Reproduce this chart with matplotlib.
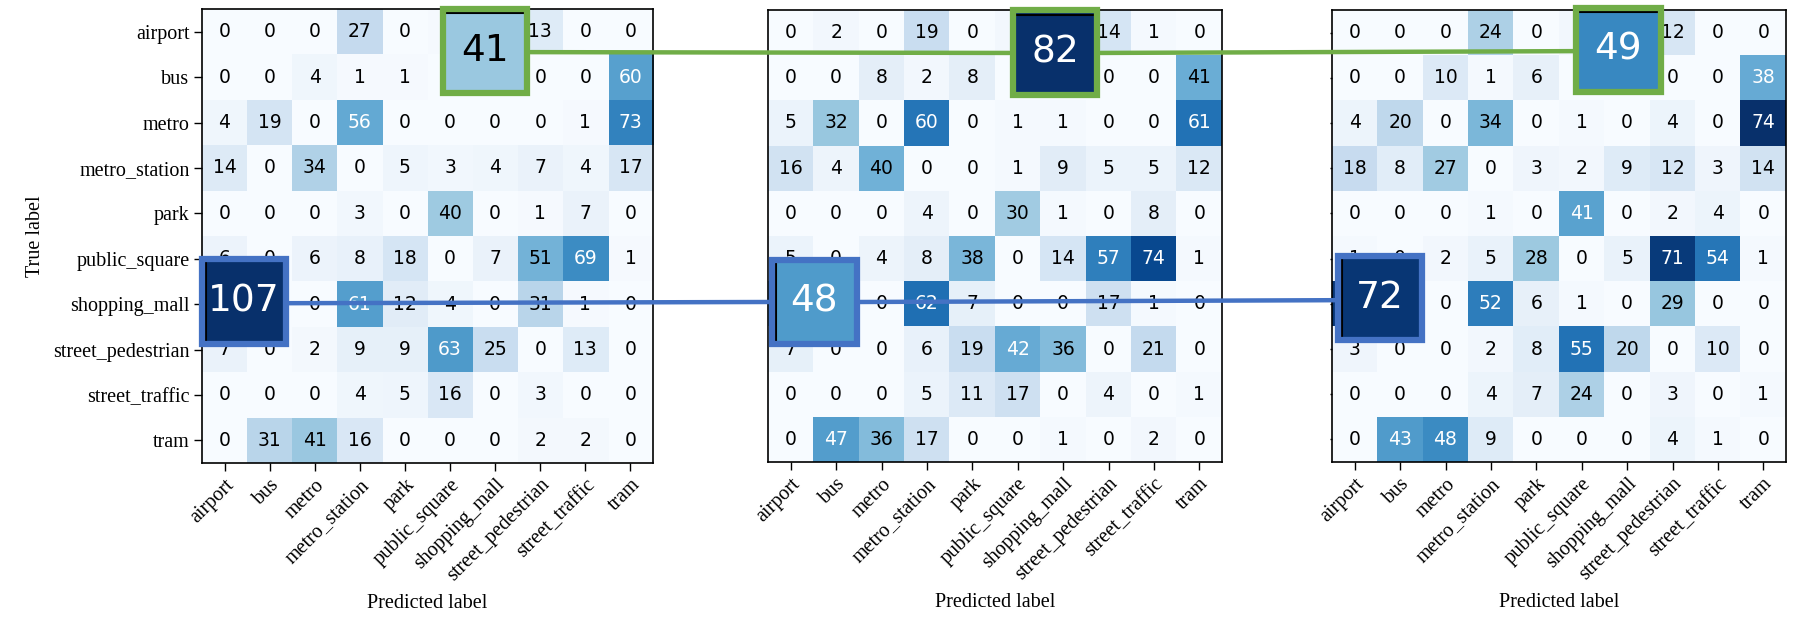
import numpy as np
import matplotlib
matplotlib.use("Agg")
import matplotlib.pyplot as plt
from matplotlib.patches import Rectangle, ConnectionPatch
from matplotlib.lines import Line2D

labels = ["airport", "bus", "metro", "metro_station", "park", "public_square",
          "shopping_mall", "street_pedestrian", "street_traffic", "tram"]

cm_left = [
    [0, 0, 0, 27, 0, 1, 41, 13, 0, 0],
    [0, 0, 4, 1, 1, 0, 0, 0, 0, 60],
    [4, 19, 0, 56, 0, 0, 0, 0, 1, 73],
    [14, 0, 34, 0, 5, 3, 4, 7, 4, 17],
    [0, 0, 0, 3, 0, 40, 0, 1, 7, 0],
    [6, 0, 6, 8, 18, 0, 7, 51, 69, 1],
    [107, 0, 0, 61, 12, 4, 0, 31, 1, 0],
    [7, 0, 2, 9, 9, 63, 25, 0, 13, 0],
    [0, 0, 0, 4, 5, 16, 0, 3, 0, 0],
    [0, 31, 41, 16, 0, 0, 0, 2, 2, 0],
]

cm_middle = [
    [0, 2, 0, 19, 0, 2, 82, 14, 1, 0],
    [0, 0, 8, 2, 8, 0, 0, 0, 0, 41],
    [5, 32, 0, 60, 0, 1, 1, 0, 0, 61],
    [16, 4, 40, 0, 0, 1, 9, 5, 5, 12],
    [0, 0, 0, 4, 0, 30, 1, 0, 8, 0],
    [5, 0, 4, 8, 38, 0, 14, 57, 74, 1],
    [48, 0, 0, 62, 7, 0, 0, 17, 1, 0],
    [7, 0, 0, 6, 19, 42, 36, 0, 21, 0],
    [0, 0, 0, 5, 11, 17, 0, 4, 0, 1],
    [0, 47, 36, 17, 0, 0, 1, 0, 2, 0],
]

cm_right = [
    [0, 0, 0, 24, 0, 2, 49, 12, 0, 0],
    [0, 0, 10, 1, 6, 0, 0, 0, 0, 38],
    [4, 20, 0, 34, 0, 1, 0, 4, 0, 74],
    [18, 8, 27, 0, 3, 2, 9, 12, 3, 14],
    [0, 0, 0, 1, 0, 41, 0, 2, 4, 0],
    [1, 0, 2, 5, 28, 0, 5, 71, 54, 1],
    [72, 0, 0, 52, 6, 1, 0, 29, 0, 0],
    [3, 0, 0, 2, 8, 55, 20, 0, 10, 0],
    [0, 0, 0, 4, 7, 24, 0, 3, 0, 1],
    [0, 43, 48, 9, 0, 0, 0, 4, 1, 0],
]

matrices = [cm_left, cm_middle, cm_right]
green_cell = (0, 6)   # (row, col) highlighted in green
blue_cell = (6, 0)    # (row, col) highlighted in blue

# layout (figure pixels)
W, H = 1807, 626
axes_px = [(202, 9, 451, 454), (768, 10, 454, 452), (1332, 10, 454, 452)]
green_centers = [(5.78, 0.43), (5.82, 0.44), (5.81, 0.38)]
blue_centers = [(0.43, 5.94), (0.52, 5.96), (0.56, 5.88)]
box_size = 1.86
GREEN = "#70AD47"
BLUE = "#4472C4"
serif = ["Liberation Serif", "DejaVu Serif"]

fig = plt.figure(figsize=(W / 100, H / 100), dpi=100)
cmap = plt.get_cmap("Blues")
axes = []
for i, (cm, (x, y, w, h)) in enumerate(zip(matrices, axes_px)):
    ax = fig.add_axes([x / W, 1 - (y + h) / H, w / W, h / H])
    axes.append(ax)
    arr = np.array(cm)
    vmax = arr.max()
    ax.imshow(arr, cmap=cmap, vmin=0, vmax=vmax, aspect="auto",
              interpolation="nearest")
    thresh = vmax / 2.0
    for r in range(arr.shape[0]):
        for c in range(arr.shape[1]):
            ax.text(c, r, str(arr[r, c]), ha="center", va="center",
                    fontsize=13.5, family="DejaVu Sans",
                    color="white" if arr[r, c] > thresh else "black")
    ax.set_xticks(range(len(labels)))
    ax.set_xticklabels(labels, rotation=45, ha="right",
                       rotation_mode="anchor", family=serif, fontsize=14.5)
    ax.set_yticks(range(len(labels)))
    if i == 0:
        ax.set_yticklabels(labels, family=serif, fontsize=14.5)
        ax.set_ylabel("True label", family=serif, fontsize=14.5, labelpad=6)
        ax.tick_params(axis="y", length=5.5, width=1)
    elif i == 1:
        ax.set_yticklabels([])
        ax.tick_params(axis="y", length=0)
    else:
        ax.set_yticklabels([])
        ax.tick_params(axis="y", length=1.5, width=1)
    ax.tick_params(axis="x", length=5.5, width=1)
    ax.set_xlabel("Predicted label", family=serif, fontsize=14.5, labelpad=6)
    for s in ax.spines.values():
        s.set_linewidth(1.2)
    ax.set_xlim(-0.5, 9.5)
    ax.set_ylim(9.5, -0.5)

    # highlight boxes
    for (rr, cc), (cx, cy), col, side in [
            (green_cell, green_centers[i], GREEN, "top"),
            (blue_cell, blue_centers[i], BLUE, "left")]:
        v = arr[rr, cc]
        x0, y0 = cx - box_size / 2, cy - box_size / 2
        ax.add_patch(Rectangle((x0, y0), box_size, box_size,
                               facecolor=cmap(v / vmax), edgecolor="none",
                               zorder=5, clip_on=False))
        if side == "top":
            ax.add_line(Line2D([x0 + 0.05, x0 + box_size - 0.05],
                               [y0 + 0.09, y0 + 0.09], color="black",
                               lw=1.5, zorder=6, clip_on=False))
        else:
            ax.add_line(Line2D([x0 + 0.09, x0 + 0.09],
                               [y0 + 0.05, y0 + box_size - 0.05],
                               color="black", lw=1.5, zorder=6, clip_on=False))
        ax.add_patch(Rectangle((x0, y0), box_size, box_size,
                               facecolor="none", edgecolor=col, lw=4.5,
                               zorder=7, clip_on=False))
        ax.text(cx, cy, str(v), ha="center", va="center", fontsize=27,
                family="DejaVu Sans", zorder=8,
                color="white" if v > thresh else "black")

# connecting lines
half = box_size / 2 + 0.07
line_y_green = [0.45, 0.45, 0.41]
line_y_blue = [5.98, 5.96, 5.92]
for i in range(2):
    for centers, ys, col in [(green_centers, line_y_green, GREEN),
                             (blue_centers, line_y_blue, BLUE)]:
        con = ConnectionPatch(
            xyA=(centers[i][0] + half, ys[i]), coordsA=axes[i].transData,
            xyB=(centers[i + 1][0] - half, ys[i + 1]),
            coordsB=axes[i + 1].transData,
            color=col, lw=3.2, zorder=4)
        fig.add_artist(con)

fig.savefig("out.png", dpi=100)
